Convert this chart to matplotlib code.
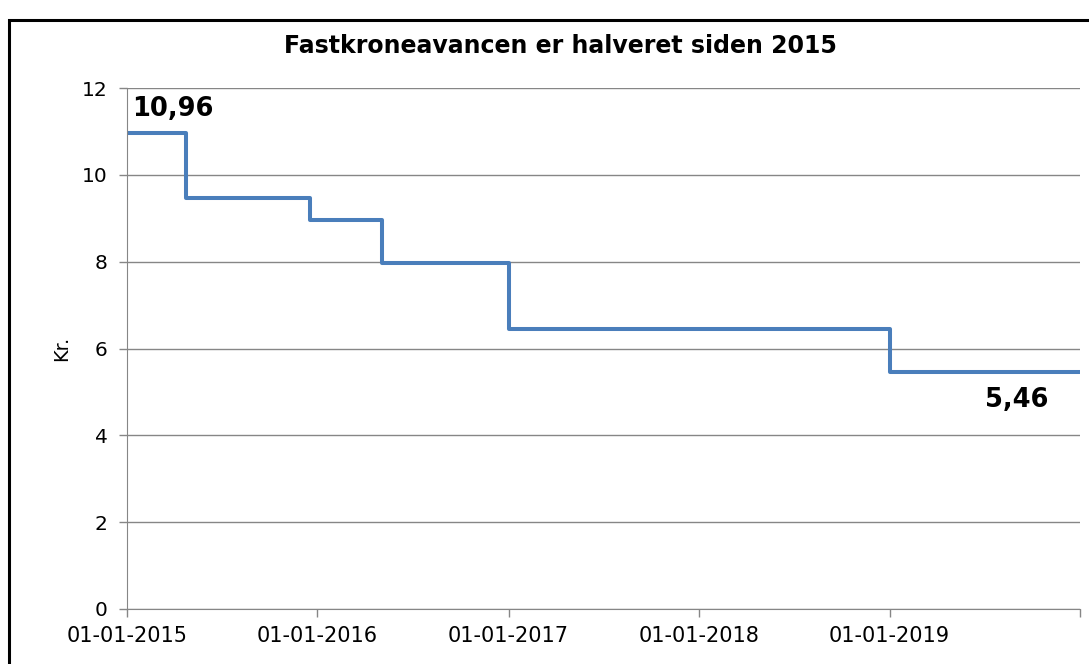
import matplotlib
matplotlib.use("Agg")
import matplotlib.pyplot as plt
from matplotlib.patches import Rectangle
import pandas as pd

# step points: date of each price change and the new price
change_dates = ['2015-01-01', '2015-04-24', '2015-12-17', '2016-05-04',
                '2017-01-01', '2019-01-01', '2019-12-31']
avance = [10.96, 9.46, 8.96, 7.96, 6.46, 5.46, 5.46]
tick_dates = ['2015-01-01', '2016-01-01', '2017-01-01', '2018-01-01',
              '2019-01-01', '2020-01-01']
tick_labels = ['01-01-2015', '01-01-2016', '01-01-2017', '01-01-2018',
               '01-01-2019', '']

x = pd.to_datetime(change_dates)
ticks = pd.to_datetime(tick_dates)

fig = plt.figure(figsize=(10.89, 6.64), dpi=100)
ax = fig.add_axes([127 / 1089, 1 - 609 / 664, (1080 - 127) / 1089, (609 - 88) / 664])

grey = '#868686'
ax.step(x, avance, where='post', color='#4a7ebb', lw=2.9, solid_joinstyle='round')

ax.set_ylim(0, 12)
ax.set_yticks(range(0, 13, 2))
ax.set_xlim(ticks[0], ticks[-1])
ax.set_xticks(ticks)
ax.set_xticklabels(tick_labels)
ax.yaxis.grid(True, color=grey, lw=1)
ax.set_axisbelow(True)
for s in ['top', 'right']:
    ax.spines[s].set_visible(False)
for s in ['left', 'bottom']:
    ax.spines[s].set_color(grey)
ax.tick_params(axis='both', colors=grey, labelcolor='black', labelsize=14.5, length=6, width=1)
ax.tick_params(axis='x', labelsize=15, pad=6)
ax.tick_params(axis='y', pad=8)

ax.set_ylabel('Kr.', fontsize=14, labelpad=8)
fig.text(560 / 1089, 1 - 46 / 664, 'Fastkroneavancen er halveret siden 2015',
         fontsize=17, fontweight='bold', ha='center', va='center')

ax.annotate('10,96', xy=(x[0], avance[0]), xytext=(4, 8), textcoords='offset points',
            ha='left', va='bottom', fontsize=18.5, fontweight='bold')
ax.annotate('5,46', xy=(x[-1], avance[-1]), xytext=(-22, -11), textcoords='offset points',
            ha='right', va='top', fontsize=18.5, fontweight='bold')

# outer chart frame (cropped at the right and bottom)
fig.patches.append(Rectangle((9 / 1089, -0.2), 1.2, 1.2 - 20 / 664, transform=fig.transFigure,
                             fill=False, edgecolor='black', lw=2.2, clip_on=False))

fig.savefig('out.png', dpi=100)
